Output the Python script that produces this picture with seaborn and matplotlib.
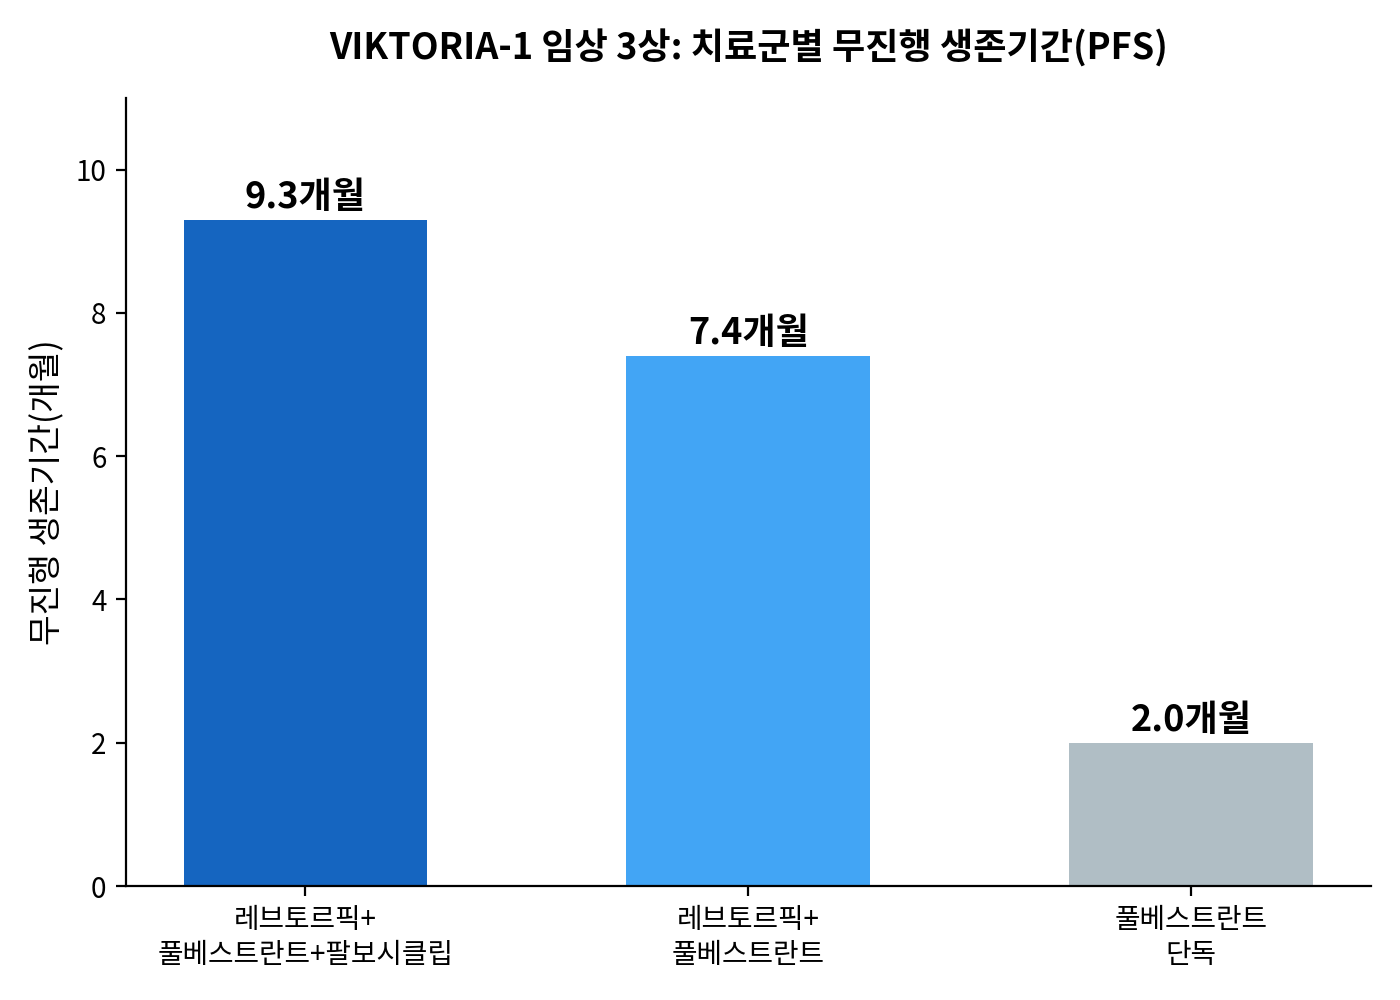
import matplotlib
matplotlib.use("Agg")
import matplotlib.pyplot as plt
import seaborn as sns
import pandas as pd

categories = ["레브토르픽+\n풀베스트란트+팔보시클립", "레브토르픽+\n풀베스트란트", "풀베스트란트\n단독"]
pfs_months = [9.3, 7.4, 2.0]
bar_colors = ["#1565C0", "#42A5F5", "#B0BEC5"]
value_labels = ["9.3개월", "7.4개월", "2.0개월"]

sns.set_style("ticks", rc={"axes.edgecolor": "black", "axes.linewidth": 0.8,
                           "xtick.color": "black", "ytick.color": "black",
                           "text.color": "black", "axes.labelcolor": "black",
                           "xtick.major.size": 3.5, "ytick.major.size": 3.5,
                           "xtick.major.width": 0.8, "ytick.major.width": 0.8})
plt.rcParams['font.family'] = ['Noto Sans CJK KR', 'DejaVu Sans']

df = pd.DataFrame({"group": categories, "pfs": pfs_months})

fig, ax = plt.subplots(figsize=(7, 5), dpi=200)
fig.subplots_adjust(left=0.09, right=0.979, top=0.902, bottom=0.114)

sns.barplot(data=df, x="group", y="pfs", hue="group", palette=bar_colors,
            width=0.55, legend=False, ax=ax, saturation=1, linewidth=0)

for p, lab in zip(ax.patches, value_labels):
    ax.text(p.get_x() + p.get_width() / 2, p.get_height() + 0.05, lab,
            ha="center", va="bottom", fontsize=13, fontweight="bold")

ax.set_ylim(0, 11)
ax.set_xlim(-0.405, 2.405)
ax.set_yticks([0, 2, 4, 6, 8, 10])
ax.set_xlabel("")
ax.set_ylabel("무진행 생존기간(개월)", fontsize=12)
ax.set_title("VIKTORIA-1 임상 3상: 치료군별 무진행 생존기간(PFS)", fontsize=13,
             fontweight="bold", pad=14)
ax.tick_params(axis="both", labelsize=10)
sns.despine(ax=ax)

fig.savefig("out.png", dpi=200)
